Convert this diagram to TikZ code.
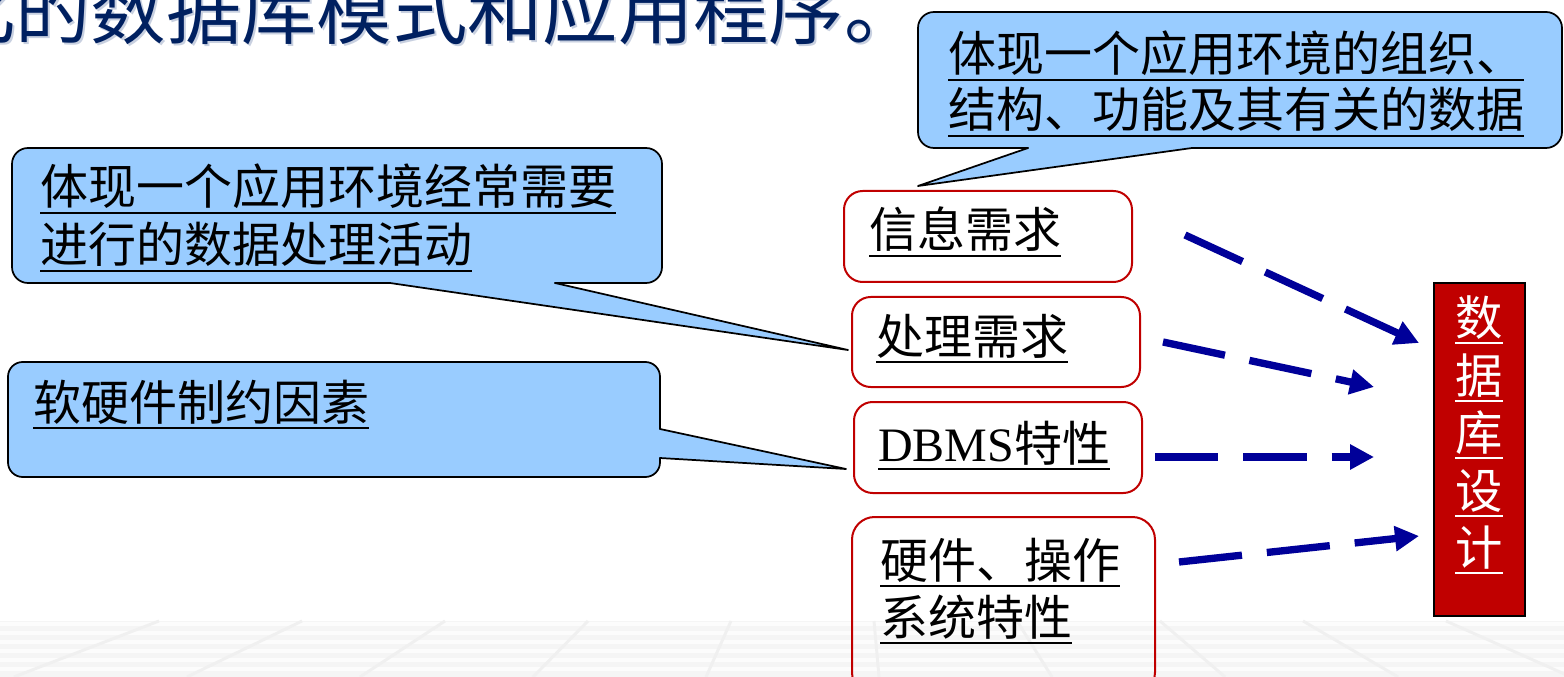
\documentclass[tikz,border=0pt]{standalone}
\usepackage{fontspec}
\setmainfont{Liberation Serif}
\newfontfamily\cjk{Noto Sans CJK SC}
\usetikzlibrary{arrows.meta,fit}
\definecolor{calloutblue}{RGB}{153,204,255}
\definecolor{boxred}{RGB}{192,0,0}
\definecolor{arrowblue}{RGB}{0,0,153}
\definecolor{titlenavy}{RGB}{0,32,96}
\definecolor{titleshadow}{RGB}{200,208,224}
\newcommand\myul[1]{\leavevmode\setbox0=\hbox{#1}\rlap{\rule[-0.19em]{\wd0}{0.042em}}\box0}
\tikzset{
  x=0.75pt, y=-0.75pt,
  calloutfill/.style={fill=calloutblue},
  outline/.style={draw=black, line width=1.3pt, line cap=round, line join=round},
  redbox/.style={draw=boxred, line width=1.5pt, rounded corners=14pt, inner sep=0pt},
  dbbox/.style={draw=black, fill=boxred, line width=2.2pt, inner sep=0pt},
  flow/.style={draw=arrowblue, line width=5.5pt, dash pattern=on 47.5pt off 18.75pt,
    -{Triangle[length=18pt,width=18pt]}},
  txt/.style={inner sep=0pt, anchor=base west, font=\cjk\fontsize{36}{36}\selectfont},
  dbtxt/.style={inner sep=0pt, anchor=base, text=white, font=\cjk\fontsize{35.5}{36}\selectfont},
  titletxt/.style={inner sep=0pt, anchor=base west, font=\cjk\fontsize{56.5}{60}\selectfont},
}
\begin{document}
\begin{tikzpicture}
\useasboundingbox (0,0) rectangle (1564,677);
\clip (0,0) rectangle (1564,677);
\fill[white] (0,0) rectangle (1564,677);
% faint floor band
\fill[gray!8] (0,621) rectangle (1564,677);
\foreach \yy in {624,633,642,651,660,669} \draw[white!70!gray!8, line width=2.6pt] (0,\yy) -- (1564,\yy);
\foreach \k in {0,...,10} {
  \pgfmathsetmacro\xt{159+143*\k}
  \pgfmathsetmacro\xb{\xt+(\xt-850)*0.21}
  \draw[gray!12, line width=2.2pt] (\xt,621) -- (\xb,677);
}
% title
\node[titletxt, text=titleshadow] (titleshadow) at (-58,41) {化的数据库模式和应用程序。};
\node[titletxt, text=titlenavy] (title) at (-60,39) {化的数据库模式和应用程序。};
% top-right callout
\fill[calloutfill, rounded corners=12pt] (918,12) rectangle (1562,148);
\fill[calloutfill] (1028,148) -- (918,186) -- (1192,148) -- cycle;
\draw[outline, rounded corners=12pt] (1192,148) -- (1562,148) -- (1562,12) -- (918,12) -- (918,148) -- (1028,148);
\draw[outline] (1028,148) -- (918,186) -- (1192,148);
\node[txt] (tr1) at (948,72) {\myul{体现一个应用环境的组织、}};
\node[txt] (tr2) at (948,128) {\myul{结构、功能及其有关的数据}};
% left callout 1
\fill[calloutfill, rounded corners=12pt] (12,148) rectangle (662,283);
\fill[calloutfill] (390,283) -- (848,350) -- (555,283) -- cycle;
\draw[outline, rounded corners=12pt] (555,283) -- (662,283) -- (662,148) -- (12,148) -- (12,283) -- (390,283);
\draw[outline] (390,283) -- (848,350) -- (555,283);
\node[txt] (l1a) at (40,205) {\myul{体现一个应用环境经常需要}};
\node[txt] (l1b) at (40,263) {\myul{进行的数据处理活动}};
% left callout 2
\fill[calloutfill, rounded corners=11pt] (8,362) rectangle (660,477);
\fill[calloutfill] (660,429) -- (846,469) -- (660,458) -- cycle;
\draw[outline, rounded corners=11pt] (660,458) -- (660,477) -- (8,477) -- (8,362) -- (660,362) -- (660,429);
\draw[outline] (660,429) -- (846,469) -- (660,458);
\node[txt] (l2) at (33,420) {\myul{软硬件制约因素}};
% red boxes
\node[redbox, fit={(844,191) (1132,282)}] (b1) {};
\node[redbox, fit={(852,297) (1140,387)}] (b2) {};
\node[redbox, fit={(854,402) (1142,493)}] (b3) {};
\node[redbox, rounded corners=17pt, fit={(852,517) (1155,695)}] (b4) {};
\node[txt] (t1) at (869,248) {\myul{信息需求}};
\node[txt] (t2) at (876,354) {\myul{处理需求}};
\node[txt] (t3) at (878,461) {\myul{{\rmfamily DBMS}特性}};
\node[txt] (t4a) at (880,578) {\myul{硬件、操作}};
\node[txt] (t4b) at (880,635) {\myul{系统特性}};
% database design box
\node[dbbox, fit={(1434,283) (1525,616)}] (db) {};
\node[dbtxt] (d1) at (1479,335) {\myul{数}};
\node[dbtxt] (d2) at (1479,393) {\myul{据}};
\node[dbtxt] (d3) at (1479,450) {\myul{库}};
\node[dbtxt] (d4) at (1479,508) {\myul{设}};
\node[dbtxt] (d5) at (1479,565) {\myul{计}};
% arrows
\coordinate (s1) at (1185,235); \coordinate (e1) at (1419,343);
\coordinate (s2) at (1163,342); \coordinate (e2) at (1374,387);
\coordinate (s3) at (1155,457); \coordinate (e3) at (1374,457);
\coordinate (s4) at (1179,562); \coordinate (e4) at (1419,536);
\draw[flow] (s1) -- (e1);
\draw[flow] (s2) -- (e2);
\draw[flow] (s3) -- (e3);
\draw[flow] (s4) -- (e4);
\end{tikzpicture}
\end{document}
